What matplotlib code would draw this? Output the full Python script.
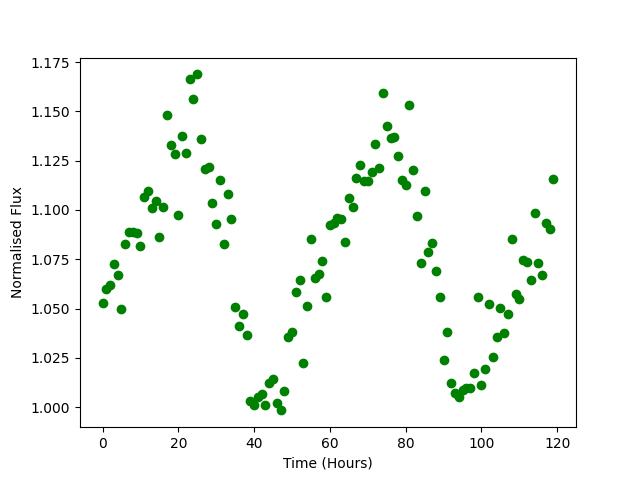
import matplotlib
matplotlib.use("Agg")
import matplotlib.pyplot as plt

# time in hours since start of observation
hours = [
    0, 1, 2, 3, 4, 5, 6, 7, 8, 9, 10, 11, 12, 13, 14, 15, 16, 17, 18, 19,
    20, 21, 22, 23, 24, 25, 26, 27, 28, 29, 30, 31, 32, 33, 34, 35, 36, 37, 38, 39,
    40, 41, 42, 43, 44, 45, 46, 47, 48, 49, 50, 51, 52, 53, 54, 55, 56, 57, 58, 59,
    60, 61, 62, 63, 64, 65, 66, 67, 68, 69, 70, 71, 72, 73, 74, 75, 76, 77, 78, 79,
    80, 81, 82, 83, 84, 85, 86, 87, 88, 89, 90, 91, 92, 93, 94, 95, 96, 97, 98, 99,
    100, 101, 102, 103, 104, 105, 106, 107, 108, 109, 110, 111, 112, 113, 114, 115, 116, 117, 118, 119,
]

# normalised flux
flux = [
    1.0526, 1.0597, 1.0617, 1.0724, 1.0668, 1.0496, 1.0825, 1.0889, 1.0889, 1.0881,
    1.0815, 1.1064, 1.1096, 1.1008, 1.1047, 1.0861, 1.1013, 1.1480, 1.1328, 1.1282,
    1.0974, 1.1373, 1.1287, 1.1663, 1.1561, 1.1688, 1.1358, 1.1208, 1.1216, 1.1033,
    1.0928, 1.1150, 1.0825, 1.1079, 1.0952, 1.0506, 1.0409, 1.0470, 1.0364, 1.0029,
    1.0009, 1.0052, 1.0064, 1.0009, 1.0123, 1.0141, 1.0019, 0.9983, 1.0080, 1.0354,
    1.0381, 1.0582, 1.0643, 1.0222, 1.0511, 1.0854, 1.0653, 1.0673, 1.0739, 1.0557,
    1.0922, 1.0932, 1.0957, 1.0952, 1.0837, 1.1059, 1.1013, 1.1162, 1.1226, 1.1145,
    1.1145, 1.1191, 1.1333, 1.1211, 1.1592, 1.1424, 1.1363, 1.1368, 1.1272, 1.1152,
    1.1125, 1.1531, 1.1201, 1.0969, 1.0729, 1.1094, 1.0788, 1.0831, 1.0690, 1.0560,
    1.0237, 1.0379, 1.0120, 1.0073, 1.0049, 1.0086, 1.0095, 1.0095, 1.0171, 1.0560,
    1.0112, 1.0191, 1.0521, 1.0252, 1.0354, 1.0501, 1.0374, 1.0470, 1.0851, 1.0573,
    1.0546, 1.0746, 1.0734, 1.0643, 1.0983, 1.0729, 1.0668, 1.0932, 1.0906, 1.1155,
]

plt.figure(figsize=(6.4, 4.8), dpi=100)
plt.plot(hours, flux, 'go')
plt.xlabel('Time (Hours)')
plt.ylabel('Normalised Flux')
plt.savefig('out.png', dpi=100)
